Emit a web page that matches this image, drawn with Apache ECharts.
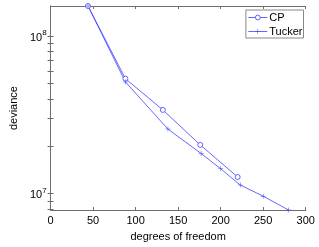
<!DOCTYPE html>
<html>
<head>
<meta charset="utf-8">
<script src="https://cdn.jsdelivr.net/npm/echarts@6/dist/echarts.min.js"></script>
<style>html,body{margin:0;padding:0;background:#fff}#c{width:319px;height:247px}</style>
</head>
<body>
<div id="c"></div>
<script>
// ---- data ----
const cpDof = [44, 88, 132, 176, 220];
const cpDeviance = [1.552e8, 5.37e7, 3.40e7, 2.04e7, 1.276e7];
const tuckerDof = [44, 88, 138, 177, 200, 223, 250, 280];
const tuckerDeviance = [1.552e8, 5.12e7, 2.57e7, 1.80e7, 1.44e7, 1.135e7, 9.65e6, 7.87e6];
const xTicks = [0, 50, 100, 150, 200, 250, 300];
const yMajorExponents = [7, 8];
const seriesNames = ['CP', 'Tucker'];

// ---- build ----
const lg = v => Math.log10(v);
const cpData = cpDof.map((x, i) => [x, lg(cpDeviance[i])]);
const tkData = tuckerDof.map((x, i) => [x, lg(tuckerDeviance[i])]);
const allLog = cpData.concat(tkData).map(d => d[1]);
const yMin = Math.min.apply(null, allLog);
const yMax = Math.max.apply(null, allLog);
const yTickVals = [];
for (let e = 6; e <= 8; e++) {
  for (let k = 1; k <= 9; k++) {
    const v = Math.log10(k) + e;
    if (v >= yMin - 1e-9 && v <= yMax + 1e-9) yTickVals.push(v);
  }
}
const FONT = '"Liberation Sans", Arial, Helvetica, sans-serif';
const AX = '#6e6e6e';
const BLUE = '#4040ff';
const plus = 'path://M4.5,0h1v4.5h4.5v1h-4.5v4.5h-1v-4.5h-4.5v-1h4.5z';

const grid = {left: 37.5, right: 13.3, top: 6, bottom: 29.3};
const chart = echarts.init(document.getElementById('c'), null, {renderer: 'canvas'});
chart.setOption({
  animation: false,
  backgroundColor: '#fff',
  grid: grid,
  legend: {
    data: seriesNames,
    orient: 'vertical',
    right: 15.5,
    top: 10,
    backgroundColor: '#fff',
    borderColor: '#888',
    borderWidth: 1,
    borderRadius: 0,
    padding: [2, 1, 1, 2],
    itemGap: 3,
    itemWidth: 19,
    itemHeight: 6,
    lineStyle: {width: 0.8},
    itemStyle: {borderWidth: 0.8},
    textStyle: {fontFamily: FONT, fontSize: 11, color: '#000', padding: [0, 0, 0, -3]}
  },
  xAxis: [{
    type: 'value', min: 0, max: 300, interval: 50,
    axisLine: {show: true, lineStyle: {color: AX, width: 1}},
    axisTick: {show: true, inside: true, length: 3, lineStyle: {color: AX}},
    axisLabel: {fontFamily: FONT, fontSize: 11, color: '#000', margin: 5,
      customValues: xTicks},
    splitLine: {show: false},
    name: 'degrees of freedom', nameLocation: 'middle', nameGap: 16,
    nameTextStyle: {fontFamily: FONT, fontSize: 11, color: '#000'}
  }, {
    type: 'value', min: 0, max: 300, interval: 50, position: 'top',
    axisLine: {show: true, lineStyle: {color: AX, width: 1}},
    axisTick: {show: true, inside: true, length: 3, lineStyle: {color: AX}},
    axisLabel: {show: false}, splitLine: {show: false}
  }],
  yAxis: [{
    type: 'value', min: yMin, max: yMax,
    axisLine: {show: true, lineStyle: {color: AX, width: 1}},
    axisTick: {show: true, inside: true, length: 3, lineStyle: {color: AX}, customValues: yTickVals},
    axisLabel: {
      customValues: yMajorExponents, margin: 4,
      formatter: v => '{b|10}{s|' + Math.round(v) + '}',
      rich: {
        b: {fontFamily: FONT, fontSize: 11, color: '#000', lineHeight: 14, verticalAlign: 'bottom'},
        s: {fontFamily: FONT, fontSize: 8, color: '#000', lineHeight: 14, verticalAlign: 'top', padding: [0, 0, 8, 0]}
      }
    },
    splitLine: {show: false},
    name: 'deviance', nameLocation: 'middle', nameGap: 24, nameRotate: 90,
    nameTextStyle: {fontFamily: FONT, fontSize: 11, color: '#000'}
  }, {
    type: 'value', min: yMin, max: yMax, position: 'right',
    axisLine: {show: true, lineStyle: {color: AX, width: 1}},
    axisTick: {show: true, inside: true, length: 3, lineStyle: {color: AX}, customValues: yTickVals},
    axisLabel: {show: false}, splitLine: {show: false}
  }],
  series: [{
    name: seriesNames[0], type: 'line', data: cpData,
    symbol: 'circle', symbolSize: 5,
    lineStyle: {color: BLUE, width: 0.8},
    itemStyle: {color: '#fff', borderColor: BLUE, borderWidth: 0.8}
  }, {
    name: seriesNames[1], type: 'line', data: tkData,
    symbol: plus, symbolSize: 5,
    lineStyle: {color: BLUE, width: 0.8},
    itemStyle: {color: BLUE, borderWidth: 0}
  }]
});
</script>
</body>
</html>
